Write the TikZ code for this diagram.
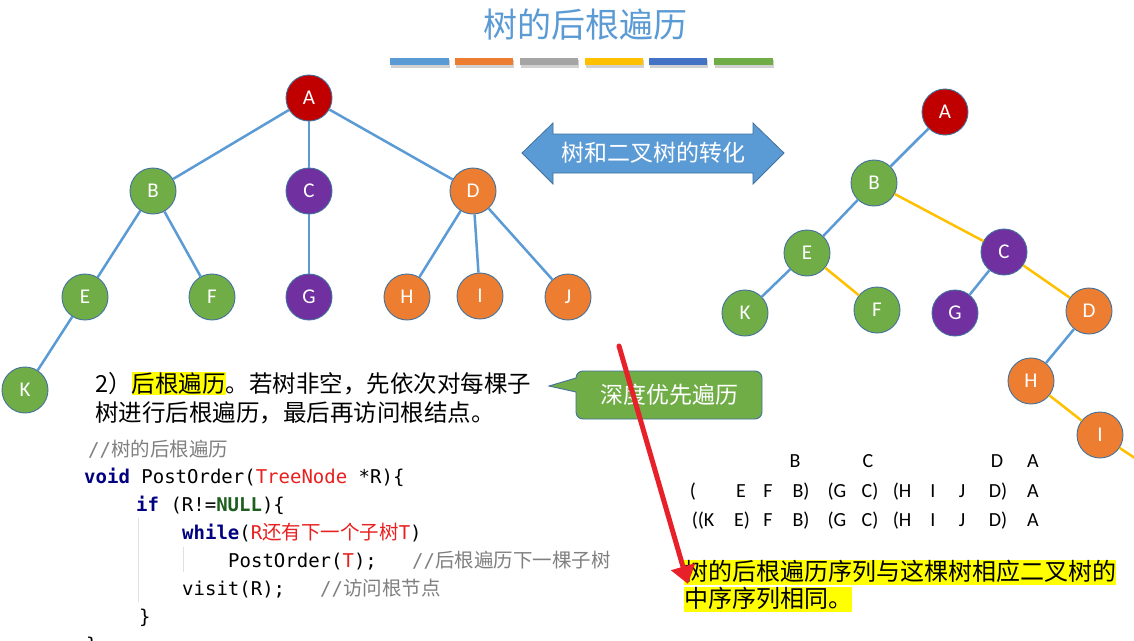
\documentclass[tikz,border=0pt]{standalone}
\usepackage{fontspec}
\setmainfont{Carlito}
\setmonofont{DejaVu Sans Mono}
\newfontfamily\cjk{Noto Sans CJK SC}
\usetikzlibrary{arrows.meta}
\definecolor{tblue}{HTML}{5B9BD5}
\definecolor{bord}{HTML}{41719C}
\definecolor{tred}{HTML}{C00000}
\definecolor{tgreen}{HTML}{70AD47}
\definecolor{tpurple}{HTML}{7030A0}
\definecolor{torange}{HTML}{ED7D31}
\definecolor{tgray}{HTML}{A5A5A5}
\definecolor{tyellow}{HTML}{FFC000}
\definecolor{tdblue}{HTML}{4472C4}
\definecolor{hl}{HTML}{FFFF00}
\definecolor{kw}{HTML}{000080}
\definecolor{nul}{HTML}{1E5E1E}
\definecolor{rd}{HTML}{E8201F}
\definecolor{cmt}{HTML}{808080}
\definecolor{arr}{HTML}{E8202A}
\newcommand\ccjk[1]{{\fontsize{19.5}{19.5}\selectfont\cjk #1}}
\newcommand\lpar{(}
\newcommand\rpar{)}
\begin{document}
\begin{tikzpicture}[x=1pt,y=-1pt,
  tn/.style={circle, draw=bord, line width=0.9pt, minimum size=46pt, inner sep=0pt, text=white, font=\fontsize{21}{21}\selectfont},
  te/.style={draw=tblue, line width=2.5pt},
  ye/.style={draw=tyellow, line width=2.5pt},
  code/.style={anchor=base west, inner sep=0pt, font=\ttfamily\fontsize{19}{19}\selectfont},
  seq/.style={anchor=base, inner sep=0pt, font=\fontsize{20}{20}\selectfont},
  para/.style={anchor=base west, inner sep=0pt, font=\cjk\fontsize{23.5}{23.5}\selectfont}
]
\useasboundingbox (0,0) rectangle (1134,640);
\fill[white] (0,0) rectangle (1134,640);

% title
\node[font=\cjk\fontsize{34}{34}\selectfont, text=tblue] (title) at (585,25) {树的后根遍历};
% colour bars
\foreach \xa/\xb/\c in {390/449/tblue,455/513/torange,520/578/tgray,585/643/tyellow,649/707/tdblue,714/773/tgreen}{
  \fill[black, opacity=0.18] (\xa+1,60) rectangle (\xb+1,67.5);
  \fill[\c] (\xa,58) rectangle (\xb,65);
}

% left tree
\node[tn, fill=tred] (A) at (309,98) {A};
\node[tn, fill=tgreen] (B) at (153,191) {B};
\node[tn, fill=tpurple] (C) at (309,191) {C};
\node[tn, fill=torange] (D) at (473,191) {D};
\node[tn, fill=tgreen] (E) at (85,297) {E};
\node[tn, fill=tgreen] (F) at (212,297) {F};
\node[tn, fill=tpurple] (G) at (309,297) {G};
\node[tn, fill=torange] (H) at (407,297) {H};
\node[tn, fill=torange] (I) at (480,296) {I};
\node[tn, fill=torange] (J) at (568,297) {J};
\node[tn, fill=tgreen] (K) at (25,390) {K};
\draw[te] (A) -- (B);
\draw[te] (A) -- (C);
\draw[te] (A) -- (D);
\draw[te] (B) -- (E);
\draw[te] (B) -- (F);
\draw[te] (C) -- (G);
\draw[te] (D) -- (H);
\draw[te] (D) -- (I);
\draw[te] (D) -- (J);
\draw[te] (E) -- (K);

% double arrow
\draw[fill=tblue, draw=bord, line width=0.8pt] (522,153) -- (553,123) -- (553,134) -- (753,134) -- (753,123) -- (784,153) -- (753,184) -- (753,173) -- (553,173) -- (553,184) -- cycle;
\node[font=\cjk\fontsize{23}{23}\selectfont, text=white] (conv) at (653,153) {树和二叉树的转化};

% right tree (binary)
\node[tn, fill=tred] (rA) at (945,112) {A};
\node[tn, fill=tgreen] (rB) at (874,183) {B};
\node[tn, fill=tgreen] (rE) at (807,253) {E};
\node[tn, fill=tpurple] (rC) at (1004,252) {C};
\node[tn, fill=tgreen] (rK) at (745,313) {K};
\node[tn, fill=tgreen] (rF) at (877,310) {F};
\node[tn, fill=tpurple] (rG) at (955,313) {G};
\node[tn, fill=torange] (rD) at (1089,311) {D};
\node[tn, fill=torange] (rH) at (1031,381) {H};
\node[tn, fill=torange] (rI) at (1100,435) {I};
\coordinate (rJ) at (1150,468);
\draw[te] (rA) -- (rB);
\draw[te] (rB) -- (rE);
\draw[te] (rE) -- (rK);
\draw[te] (rC) -- (rG);
\draw[te] (rD) -- (rH);
\draw[ye] (rB) -- (rC);
\draw[ye] (rE) -- (rF);
\draw[ye] (rC) -- (rD);
\draw[ye] (rH) -- (rI);
\draw[ye] (rI) -- (rJ);

% callout
\draw[fill=tgreen, draw=bord, line width=0.9pt] (576,378) -- (549,386) -- (576,392) [rounded corners=7pt] -- (576,419) -- (762,419) -- (762,371) -- (576,371) [sharp corners] -- cycle;
\node[font=\cjk\fontsize{23}{23}\selectfont, text=white] (dfs) at (669,395) {深度优先遍历};

% paragraph
\setlength{\fboxsep}{0pt}
\node[para] (p1) at (95,392) {2）\colorbox{hl}{\rule[-3pt]{0pt}{21pt}后根遍历}。若树非空，先依次对每棵子};
\node[para] (p2) at (95,421) {树进行后根遍历，最后再访问根结点。};

% code
\draw[black!12, line width=0.8pt] (138,518) -- (138,602);
\draw[black!12, line width=0.8pt] (183.5,547) -- (183.5,572);
\node[code] (c1) at (88,456.5) {\color{cmt}//\ccjk{树的后根遍历}};
\node[code] (c2) at (84,483.5) {{\color{kw}\bfseries void} PostOrder({\color{rd}TreeNode} *R)\{};
\node[code] (c3) at (136,511) {{\color{kw}\bfseries if} (R!={\color{nul}\bfseries NULL})\{};
\node[code] (c4) at (182,539.5) {{\color{kw}\bfseries while}({\color{rd}R\ccjk{还有下一个子树}T})};
\node[code] (c5) at (228,567) {PostOrder({\color{rd}T});};
\node[code] (c5c) at (412,567) {\color{cmt}//\ccjk{后根遍历下一棵子树}};
\node[code] (c6) at (182,595) {visit(R);};
\node[code] (c6c) at (320,595) {\color{cmt}//\ccjk{访问根节点}};
\node[code] (c7) at (139,623) {\}};
\node[code] (c8) at (86,651) {\}};

% sequences
\foreach \t/\x [count=\i] in {B/795,C/868,D/997,A/1033}
  \node[seq] (s1-\i) at (\x,467.5) {\t};
\foreach \t/\x [count=\i] in {\lpar/693,E/741,F/768,B\rpar/801,\lpar G/837,C\rpar/870,\lpar H/902,I/933,J/962,D\rpar/998,A/1033}
  \node[seq] (s2-\i) at (\x,497.5) {\t};
\foreach \t/\x [count=\i] in {\lpar\lpar K/703,E\rpar/742,F/768,B\rpar/801,\lpar G/837,C\rpar/870,\lpar H/902,I/933,J/962,D\rpar/998,A/1033}
  \node[seq] (s3-\i) at (\x,526.5) {\t};

% bottom statement
\node[anchor=base west, inner sep=0pt, font=\cjk\fontsize{24}{24}\selectfont] (b1) at (684,580.5) {\colorbox{hl}{\rule[-4.5pt]{0pt}{23.5pt}树的后根遍历序列与这棵树相应二叉树的}};
\node[anchor=base west, inner sep=0pt, font=\cjk\fontsize{24}{24}\selectfont] (b2) at (684,607) {\colorbox{hl}{\rule[-5pt]{0pt}{22pt}中序序列相同。}};

% red arrow
\coordinate (ra) at (619,346);
\coordinate (rb) at (688,584);
\draw[arr, line width=5pt, line cap=round, -{Triangle[length=18pt,width=24pt]}] (ra) -- (rb);
\end{tikzpicture}
\end{document}
